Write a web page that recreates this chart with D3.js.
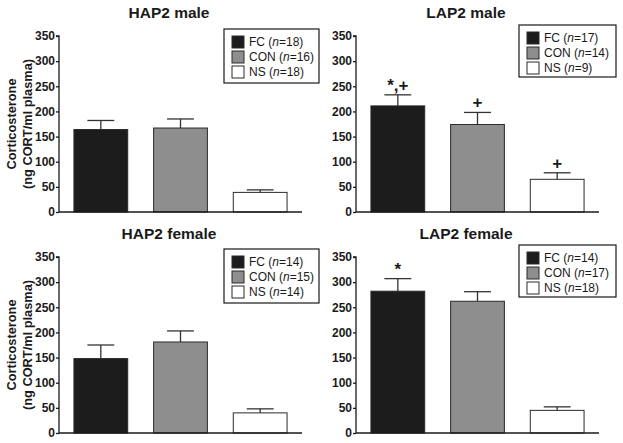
<!DOCTYPE html>
<html>
<head>
<meta charset="utf-8">
<script src="https://cdn.jsdelivr.net/npm/d3@7"></script>
<style>
  html, body { margin: 0; padding: 0; background: #fff; }
  text { font-family: "Liberation Sans", Arial, sans-serif; fill: #1a1a1a; }
</style>
</head>
<body>
<svg id="chart" width="623" height="443"></svg>
<script>
// ---- data ----
const panelTitles = ["HAP2 male", "LAP2 male", "HAP2 female", "LAP2 female"];
const groups = ["FC", "CON", "NS"];
const groupColors = ["#1c1c1c", "#8e8e8e", "#ffffff"];
const meansHAP2male = [164, 167, 39];
const semsHAP2male = [18, 18, 5];
const meansLAP2male = [211, 174, 65];
const semsLAP2male = [22, 24, 13];
const meansHAP2female = [148, 181, 40];
const semsHAP2female = [27, 22, 8];
const meansLAP2female = [282, 262, 45];
const semsLAP2female = [25, 19, 7];
const nHAP2male = [18, 16, 18];
const nLAP2male = [17, 14, 9];
const nHAP2female = [14, 15, 14];
const nLAP2female = [14, 17, 18];
const marksLAP2male = ["*,+", "+", "+"];
const marksLAP2female = ["*", "", ""];
const yTicks = [0, 50, 100, 150, 200, 250, 300, 350];
const yLabelLines = ["Corticosterone", "(ng CORT/ml plasma)"];

const panels = [
  {title: panelTitles[0], means: meansHAP2male, sems: semsHAP2male, n: nHAP2male, marks: null,
   x0: 59, y0: 36, legend: {x: 224, y: 29, w: 95, h: 54}, ylabel: true},
  {title: panelTitles[1], means: meansLAP2male, sems: semsLAP2male, n: nLAP2male, marks: marksLAP2male,
   x0: 356, y0: 36, legend: {x: 519, y: 25, w: 97, h: 52}, ylabel: false},
  {title: panelTitles[2], means: meansHAP2female, sems: semsHAP2female, n: nHAP2female, marks: null,
   x0: 59, y0: 257, legend: {x: 224, y: 249, w: 95, h: 54}, ylabel: true},
  {title: panelTitles[3], means: meansLAP2female, sems: semsLAP2female, n: nLAP2female, marks: marksLAP2female,
   x0: 356, y0: 257, legend: {x: 519, y: 245, w: 97, h: 52}, ylabel: false}
];

const svg = d3.select("#chart");
const W = 243, H = 176;

panels.forEach(p => {
  const g = svg.append("g").attr("transform", `translate(${p.x0},${p.y0})`);
  const x = d3.scaleBand().domain(groups).range([0, W]).paddingInner(0.325).paddingOuter(0.1875);
  const y = d3.scaleLinear().domain([0, 350]).range([H, 0]);

  // title
  svg.append("text")
    .attr("x", p.x0 + 110).attr("y", p.y0 - 18)
    .attr("text-anchor", "middle")
    .style("font-size", "15.5px").style("font-weight", "bold")
    .text(p.title);

  // error bars (upper only)
  const eb = g.append("g");
  groups.forEach((k, i) => {
    const cx = x(k) + x.bandwidth() / 2;
    const cap = x.bandwidth() / 2;
    eb.append("line").attr("x1", cx).attr("x2", cx)
      .attr("y1", y(p.means[i])).attr("y2", y(p.means[i] + p.sems[i]))
      .attr("stroke", "#333").attr("stroke-width", 1.3);
    eb.append("line").attr("x1", cx - cap / 2).attr("x2", cx + cap / 2)
      .attr("y1", y(p.means[i] + p.sems[i])).attr("y2", y(p.means[i] + p.sems[i]))
      .attr("stroke", "#333").attr("stroke-width", 1.3);
  });

  // bars
  g.selectAll("rect.bar").data(groups).join("rect")
    .attr("class", "bar")
    .attr("x", d => x(d))
    .attr("y", (d, i) => y(p.means[i]))
    .attr("width", x.bandwidth())
    .attr("height", (d, i) => H - y(p.means[i]))
    .attr("fill", (d, i) => groupColors[i])
    .attr("stroke", "#2a2a2a").attr("stroke-width", 1);

  // significance marks
  if (p.marks) {
    groups.forEach((k, i) => {
      if (!p.marks[i]) return;
      g.append("text")
        .attr("x", x(k) + x.bandwidth() / 2)
        .attr("y", y(p.means[i] + p.sems[i]) - 4)
        .attr("text-anchor", "middle")
        .style("font-size", "17px").style("font-weight", "bold")
        .text(p.marks[i]);
    });
  }

  // y axis
  const ya = g.append("g").call(d3.axisLeft(y).tickValues(yTicks).tickSize(3).tickPadding(1).tickFormat(d3.format("d")));
  ya.select(".domain").attr("stroke", "#1a1a1a").attr("stroke-width", 1.3).attr("d", `M0,${H}V0H-3`);
  ya.selectAll(".tick line").attr("stroke", "#1a1a1a").attr("stroke-width", 1.3);
  ya.selectAll(".tick text").style("font-size", "12px").style("font-weight", "bold")
    .style("font-family", '"Liberation Sans", Arial, sans-serif').attr("fill", "#1a1a1a");

  // x axis line
  g.append("line").attr("x1", 0).attr("x2", W).attr("y1", H).attr("y2", H)
    .attr("stroke", "#1a1a1a").attr("stroke-width", 1.3);

  // y label
  if (p.ylabel) {
    yLabelLines.forEach((t, j) => {
      svg.append("text")
        .attr("transform", `translate(${11 + j * 16},${p.y0 + 88}) rotate(-90)`)
        .attr("text-anchor", "middle")
        .attr("dominant-baseline", "central")
        .style("font-size", "12.8px").style("font-weight", "bold")
        .text(t);
    });
  }

  // legend
  const L = p.legend;
  const lg = svg.append("g").attr("transform", `translate(${L.x},${L.y})`);
  lg.append("rect").attr("x", 0).attr("y", 0).attr("width", L.w).attr("height", L.h)
    .attr("fill", "#fff").attr("stroke", "#1a1a1a").attr("stroke-width", 1.2);
  groups.forEach((k, i) => {
    const cy = 13 + i * 15;
    lg.append("rect").attr("x", 8).attr("y", cy - 6).attr("width", 12).attr("height", 12)
      .attr("fill", groupColors[i]).attr("stroke", "#2a2a2a").attr("stroke-width", 1);
    const t = lg.append("text").attr("x", 25).attr("y", cy).attr("dominant-baseline", "central")
      .style("font-size", "12px");
    t.append("tspan").text(k + " (");
    t.append("tspan").style("font-style", "italic").text("n");
    t.append("tspan").text("=" + p.n[i] + ")");
  });
});
</script>
</body>
</html>
